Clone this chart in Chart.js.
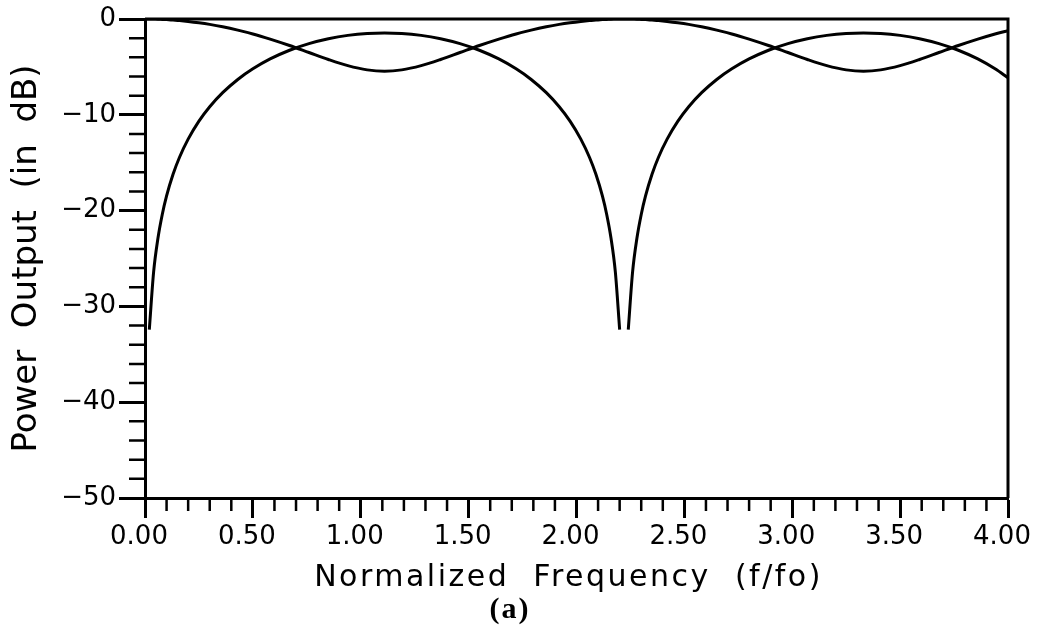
<!DOCTYPE html>
<html>
<head>
<meta charset="utf-8">
<script src="https://cdn.jsdelivr.net/npm/chart.js@4.4.0/dist/chart.umd.min.js"></script>
<style>
  html, body { margin: 0; background: #fff; }
  canvas { display: block; }
</style>
</head>
<body>
<canvas id="chart" width="1046" height="628"></canvas>
<script>
// normalized frequency f/fo
const freq = [
  0.00, 0.02, 0.04, 0.06, 0.08, 0.10, 0.13, 0.16, 0.20, 0.25, 0.30, 0.36, 0.43, 0.50, 0.58, 0.67, 0.76, 0.85, 0.94, 1.03, 1.11,
  1.19, 1.28, 1.37, 1.46, 1.55, 1.64, 1.72, 1.79, 1.86, 1.92, 1.97, 2.02, 2.06, 2.09, 2.12, 2.14, 2.16, 2.18, 2.20, 2.22,
  2.24, 2.26, 2.28, 2.30, 2.32, 2.35, 2.38, 2.42, 2.47, 2.52, 2.58, 2.65, 2.72, 2.80, 2.89, 2.98, 3.07, 3.16, 3.25, 3.33,
  3.41, 3.50, 3.59, 3.68, 3.77, 3.86, 3.94, 4.00
];
// curve that starts at 0 dB
const portA = [
  0.00, 0.00, -0.01, -0.02, -0.04, -0.06, -0.11, -0.16, -0.25, -0.39, -0.56, -0.81, -1.16, -1.56, -2.10, -2.77, -3.50, -4.23, -4.87, -5.31, -5.45,
  -5.31, -4.87, -4.23, -3.50, -2.77, -2.10, -1.56, -1.16, -0.81, -0.56, -0.39, -0.25, -0.16, -0.11, -0.06, -0.04, -0.02, -0.01, 0.00, 0.00,
  0.00, -0.01, -0.02, -0.04, -0.06, -0.11, -0.16, -0.25, -0.39, -0.56, -0.81, -1.16, -1.56, -2.10, -2.77, -3.50, -4.23, -4.87, -5.31, -5.45,
  -5.31, -4.87, -4.23, -3.50, -2.77, -2.10, -1.56, -1.21
];
// curve with the deep notches (null = off the bottom, not plotted)
const portB = [
  null, -32.42, -26.40, -22.89, -20.40, -18.47, -16.21, -14.43, -12.54, -10.66, -9.16, -7.69, -6.31, -5.20, -4.17, -3.26, -2.57, -2.06, -1.71, -1.51, -1.46,
  -1.51, -1.71, -2.06, -2.57, -3.26, -4.17, -5.20, -6.31, -7.69, -9.16, -10.66, -12.54, -14.43, -16.21, -18.47, -20.40, -22.89, -26.40, -32.42, null,
  -32.42, -26.40, -22.89, -20.40, -18.47, -16.21, -14.43, -12.54, -10.66, -9.16, -7.69, -6.31, -5.20, -4.17, -3.26, -2.57, -2.06, -1.71, -1.51, -1.46,
  -1.51, -1.71, -2.06, -2.57, -3.26, -4.17, -5.20, -6.14
];

const xMinorStep = 0.1;
const xLabelStep = 0.5;
const yMinorStep = 2;
const yLabelStep = 10;
const xTitle = 'Normalized  Frequency  (f/fo)';
const yTitle = 'Power  Output  (in  dB)';
const caption = '(a)';

const isMajor = (v, step) => Math.abs(v / step - Math.round(v / step)) < 1e-6;

// chart.js has a single tickLength, so the short minor ticks, the top/right
// frame and the bottom texts are drawn here
const extras = {
  id: 'extras',
  afterDraw(chart) {
    const { ctx, chartArea: a, scales: { x, y } } = chart;
    ctx.save();
    ctx.strokeStyle = '#000';
    ctx.lineWidth = 2.5;
    ctx.beginPath();
    x.ticks.forEach(t => {
      if (isMajor(t.value, xLabelStep)) return;
      const px = x.getPixelForValue(t.value);
      ctx.moveTo(px, a.bottom);
      ctx.lineTo(px, a.bottom + 13);
    });
    y.ticks.forEach(t => {
      if (isMajor(t.value, yLabelStep)) return;
      const py = y.getPixelForValue(t.value);
      ctx.moveTo(a.left - 16, py);
      ctx.lineTo(a.left, py);
    });
    ctx.stroke();

    ctx.lineWidth = 3;
    ctx.beginPath();
    ctx.moveTo(a.left, a.top);
    ctx.lineTo(a.right, a.top);
    ctx.lineTo(a.right, a.bottom);
    ctx.stroke();

    ctx.fillStyle = '#000';
    ctx.textAlign = 'center';
    ctx.textBaseline = 'alphabetic';
    ctx.font = '30px "DejaVu Sans"';
    ctx.letterSpacing = '2.5px';
    ctx.fillText(xTitle, (a.left + a.right) / 2 - 8, a.bottom + 88);
    ctx.font = 'bold 30px "Liberation Serif"';
    ctx.letterSpacing = '2px';
    ctx.fillText(caption, 510, a.bottom + 120);
    ctx.restore();
  }
};

new Chart(document.getElementById('chart'), {
  type: 'line',
  data: {
    datasets: [
      {
        label: 'A',
        data: freq.map((f, i) => ({ x: f, y: portA[i] })),
        borderColor: '#000',
        borderWidth: 3,
        pointRadius: 0,
        cubicInterpolationMode: 'monotone'
      },
      {
        label: 'B',
        data: freq.map((f, i) => ({ x: f, y: portB[i] })),
        borderColor: '#000',
        borderWidth: 3,
        pointRadius: 0,
        cubicInterpolationMode: 'monotone'
      }
    ]
  },
  options: {
    responsive: false,
    animation: false,
    layout: { padding: { top: 19, right: 38, left: 0, bottom: 0 } },
    plugins: {
      legend: { display: false },
      tooltip: { enabled: false }
    },
    scales: {
      x: {
        type: 'linear',
        min: 0,
        max: 4,
        afterFit: s => { s.height = 130; },
        border: { color: '#000', width: 3 },
        grid: {
          drawOnChartArea: false,
          tickLength: 20,
          tickWidth: 3,
          tickColor: c => isMajor(c.tick.value, xLabelStep) ? '#000' : 'rgba(0,0,0,0)'
        },
        ticks: {
          stepSize: xMinorStep,
          maxTicksLimit: 100,
          autoSkip: false,
          maxRotation: 0,
          minRotation: 0,
          padding: 4,
          labelOffset: -6,
          color: '#000',
          font: { family: 'DejaVu Sans', size: 26 },
          callback: v => isMajor(v, xLabelStep) ? Number(v).toFixed(2) : ''
        }
      },
      y: {
        min: -50,
        max: 0,
        afterFit: s => { s.width = 145; },
        border: { color: '#000', width: 3 },
        grid: {
          drawOnChartArea: false,
          tickLength: 26,
          tickWidth: 3,
          tickColor: c => isMajor(c.tick.value, yLabelStep) ? '#000' : 'rgba(0,0,0,0)'
        },
        ticks: {
          stepSize: yMinorStep,
          maxTicksLimit: 100,
          autoSkip: false,
          padding: 3,
          color: '#000',
          font: { family: 'DejaVu Sans', size: 26 },
          callback: v => isMajor(v, yLabelStep) ? (v < 0 ? '\u2212' + Math.abs(v) : String(v)) : ''
        },
        title: {
          display: true,
          text: yTitle,
          color: '#000',
          font: { family: 'DejaVu Sans', size: 34, lineHeight: 1.2 },
          padding: { top: 7, bottom: 0 }
        }
      }
    }
  },
  plugins: [extras]
});
</script>
</body>
</html>
